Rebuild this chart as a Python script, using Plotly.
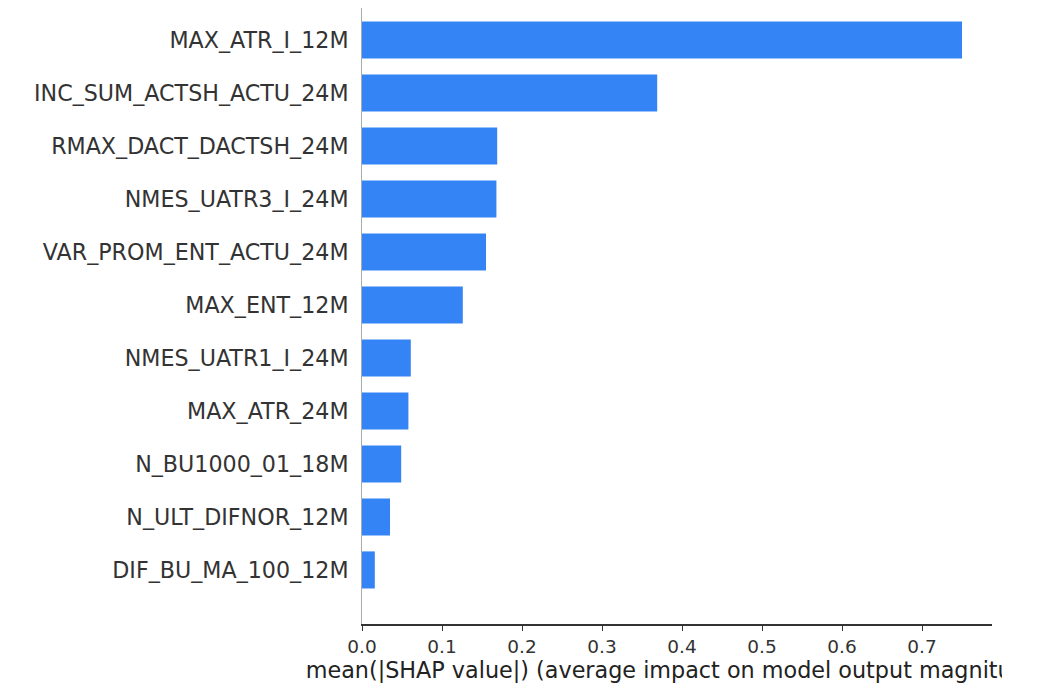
import plotly.graph_objects as go

# features ordenadas de cima para baixo
features = [
    "MAX_ATR_I_12M",
    "INC_SUM_ACTSH_ACTU_24M",
    "RMAX_DACT_DACTSH_24M",
    "NMES_UATR3_I_24M",
    "VAR_PROM_ENT_ACTU_24M",
    "MAX_ENT_12M",
    "NMES_UATR1_I_24M",
    "MAX_ATR_24M",
    "N_BU1000_01_18M",
    "N_ULT_DIFNOR_12M",
    "DIF_BU_MA_100_12M",
]
shap_vals = [0.750, 0.369, 0.169, 0.168, 0.155, 0.126, 0.061, 0.058, 0.049, 0.035, 0.016]
x_ticks = [0.0, 0.1, 0.2, 0.3, 0.4, 0.5, 0.6, 0.7]

AZUL = "rgb(52,132,246)"
FONTE = "DejaVu Sans"

fig = go.Figure()

fig.add_trace(go.Bar(
    x=shap_vals,
    y=features,
    orientation="h",
    width=0.7,
    marker=dict(color=AZUL, line=dict(width=0)),
))

# a página tem 8px de margem no body; a figura termina onde o título é cortado
fig.update_layout(
    width=994,
    height=690,
    margin=dict(l=354, r=10, t=0, b=74),
    plot_bgcolor="white",
    paper_bgcolor="white",
    showlegend=False,
    font=dict(family=FONTE, color="#333333"),
)

fig.update_xaxes(
    range=[0, 0.7875],
    tickvals=x_ticks,
    ticktext=[f"{v:.1f}" for v in x_ticks],
    tickfont=dict(size=18.5, color="#333333"),
    showgrid=False,
    zeroline=False,
    showline=True,
    linecolor="#333333",
    linewidth=1.5,
    ticks="outside",
    ticklen=5,
    tickcolor="#333333",
    title=dict(
        text="mean(|SHAP value|) (average impact on model output magnitude)",
        font=dict(size=22.3, color="#222222"),
        standoff=6,
    ),
)

fig.update_yaxes(
    type="category",
    categoryorder="array",
    categoryarray=features,
    range=[11.02, -0.604],
    tickfont=dict(size=22.2, color="#333333"),
    showgrid=False,
    zeroline=False,
    showline=True,
    linecolor="#aaaaaa",
    linewidth=1,
    ticks="",
    ticklabelstandoff=8,
)

fig.write_html("out.html")
